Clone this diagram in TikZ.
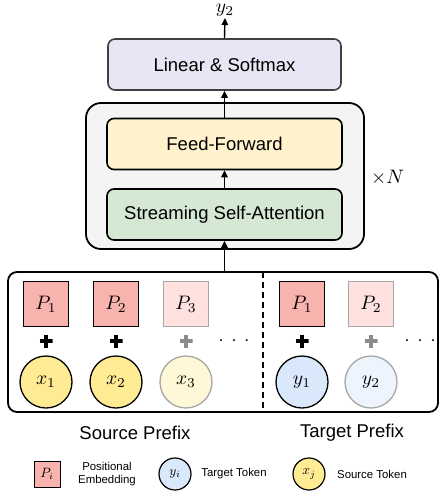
\documentclass[tikz,border=0pt]{standalone}
\usepackage{graphicx}
\usepackage{fontspec}
\setmainfont{Liberation Sans}
\usetikzlibrary{arrows.meta}
\definecolor{lavfill}{HTML}{E6E6F4}
\definecolor{outfill}{HTML}{F4F4F4}
\definecolor{fffill}{HTML}{FFF2CC}
\definecolor{ssafill}{HTML}{D5E8D4}
\definecolor{pfill}{HTML}{F9B3AE}
\definecolor{plight}{HTML}{FFE1DF}
\definecolor{yfill}{HTML}{FFEB94}
\definecolor{ylight}{HTML}{FFF8D8}
\definecolor{bfill}{HTML}{DAE8FC}
\definecolor{blight}{HTML}{EEF4FD}
\definecolor{lgray}{HTML}{A6A6A6}
\definecolor{pgray}{HTML}{8C8C8C}
\definecolor{dgray}{HTML}{404040}
\newcommand{\smath}[2]{\scalebox{#1}{\fontsize{10}{12}\selectfont$#2$}}
\newcommand{\mm}[1]{\smath{1.95}{#1}}
\newcommand{\lm}[1]{\smath{1.35}{#1}}
\tikzset{
  bigtext/.style={font=\fontsize{18.5}{22}\selectfont},
  block/.style={draw, line width=1.6pt, rounded corners=7pt, minimum width=235pt, minimum height=51pt, bigtext, inner sep=0pt},
  arr/.style={line width=1.4pt, -{Triangle[length=7pt,width=6.5pt]}},
  pbox/.style={draw, line width=1.3pt, fill=pfill, minimum size=45pt, inner sep=0pt},
  pboxlight/.style={pbox, fill=plight, draw=lgray},
  tok/.style={draw, circle, line width=1.3pt, minimum size=52pt, inner sep=0pt},
  xtok/.style={tok, fill=yfill},
  xtoklight/.style={tok, fill=ylight, draw=lgray},
  ytok/.style={tok, fill=bfill},
  ytoklight/.style={tok, fill=blight, draw=lgray},
  plussign/.style={minimum size=13pt, inner sep=0pt, path picture={
      \draw[line width=3.6pt, #1] (path picture bounding box.west) -- (path picture bounding box.east)
        (path picture bounding box.north) -- (path picture bounding box.south);}},
  plussign/.default=black,
  dotsnode/.style={inner sep=0pt},
  legtext/.style={font=\fontsize{11.4}{13}\selectfont, align=center, inner sep=0pt},
}
\newcommand{\spdots}{\mm{\mathord{\cdot}\mkern7mu\mathord{\cdot}\mkern7mu\mathord{\cdot}}}
\begin{document}
\begin{tikzpicture}[x=1pt,y=-1pt]
\useasboundingbox (0,0) rectangle (439,495);

% output
\node[inner sep=0pt] (yout) at (225,10.5) {\mm{y_2}};
\coordinate (outtip) at (225,18);

% outer repeated block
\node[draw, line width=1.8pt, rounded corners=15pt, fill=outfill, minimum width=278pt, minimum height=146pt] (outer) at (225,176) {};
\node[anchor=west, inner sep=0pt] (times) at (371,178) {\mm{\times N}};

\node[block, fill=lavfill, draw=dgray, minimum width=233pt] (lin) at (224.5,64.5) {Linear \& Softmax};
\node[block, fill=fffill] (ff) at (224.5,144) {Feed-Forward};
\node[block, fill=ssafill] (ssa) at (224.5,214.5) {Streaming Self-Attention};

% input box
\node[draw, line width=1.8pt, rounded corners=9pt, minimum width=430pt, minimum height=140pt] (inp) at (223,342) {};
\coordinate (dtop) at (263,272);
\coordinate (dbot) at (263,412);
\draw[line width=1.6pt, dash pattern=on 6pt off 4pt] (dtop) -- (dbot);

% arrows
\draw[arr] (lin.north) -- (outtip);
\draw[arr] (ff.north) -- (lin.south);
\draw[arr] (ssa.north) -- (ff.south);
\draw[arr] (ssa.south |- inp.north) -- (ssa.south);

% positional embeddings
\node[pbox] (p1) at (46,304) {\mm{P_1}};
\node[pbox] (p2) at (116,304) {\mm{P_2}};
\node[pboxlight] (p3) at (186,304) {\mm{P_3}};
\node[pbox] (q1) at (302,304) {\mm{P_1}};
\node[pboxlight] (q2) at (371,304) {\mm{P_2}};

% plus signs
\node[plussign] (s1) at (46,341) {};
\node[plussign] (s2) at (116,341) {};
\node[plussign=pgray] (s3) at (186,341) {};
\node[plussign] (t1) at (302,341) {};
\node[plussign=pgray] (t2) at (371,341) {};
\node[dotsnode] (dots1) at (234,341) {\spdots};
\node[dotsnode] (dots2) at (420,341) {\spdots};

% tokens
\node[xtok] (x1) at (46,382) {\mm{x_1}};
\node[xtok] (x2) at (116,382) {\mm{x_2}};
\node[xtoklight] (x3) at (186,382) {\mm{x_3}};
\node[ytok] (y1) at (302,382) {\mm{y_1}};
\node[ytoklight] (y2) at (371,382) {\mm{y_2}};

% prefix labels
\node[bigtext, inner sep=0pt] (srcp) at (135,433) {Source Prefix};
\node[bigtext, inner sep=0pt] (tgtp) at (352,433) {Target Prefix};

% legend
\node[pbox, minimum size=26pt, line width=1pt] (lp) at (47,474) {\lm{P_i}};
\node[legtext] (lpt) at (107,474) {Positional\\Embedding};
\node[ytok, minimum size=32pt, line width=1.2pt] (ly) at (175,474) {\lm{y_i}};
\node[legtext] (lyt) at (234,474) {Target Token};
\node[xtok, minimum size=32pt, line width=1.2pt] (lx) at (309,474) {\lm{x_j}};
\node[legtext] (lxt) at (372,474) {Source Token};
\end{tikzpicture}
\end{document}
